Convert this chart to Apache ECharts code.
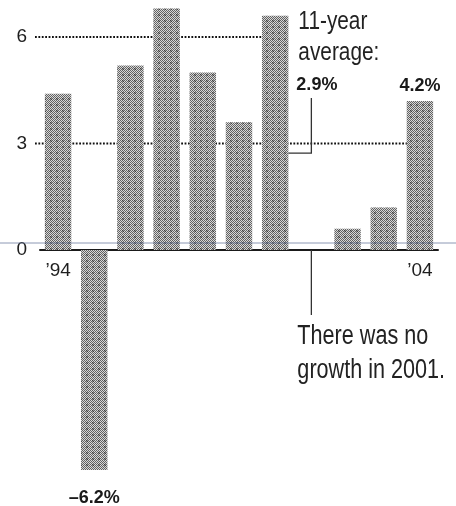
<!DOCTYPE html>
<html>
<head>
<meta charset="utf-8">
<script src="https://cdn.jsdelivr.net/npm/echarts@6/dist/echarts.min.js"></script>
<style>
  html, body { margin: 0; padding: 0; background: #fff; }
  #chart { width: 456px; height: 506px; }
</style>
</head>
<body>
<div id="chart"></div>
<script>
// Annual growth, 1994-2004 (percent)
const years = ['1994', '1995', '1996', '1997', '1998', '1999', '2000', '2001', '2002', '2003', '2004'];
const growth = [4.4, -6.2, 5.2, 6.8, 5.0, 3.6, 6.6, 0, 0.6, 1.2, 4.2];
const yTickLabels = [0, 3, 6];
const averageGrowth = 2.9;
const labelledYears = ['1995', '2004'];
const shownYearLabels = ['1994', '2004'];
const averageNote = ['11-year', 'average:'];
const zeroNote = ['There was no', 'growth in 2001.'];
const zeroYear = '2001';

const SANS = '"Liberation Sans", Arial, sans-serif';
const INK = '#1a1a1a';

// Halftone-like fill for the bars
function halftone() {
  const c = document.createElement('canvas');
  c.width = 6; c.height = 6;
  const g = c.getContext('2d');
  for (let y = 0; y < 6; y++) for (let x = 0; x < 6; x++) {
    const dark = (x + y) % 2 === 0;
    const blob = (x === 2 || x === 3) && (y === 2 || y === 3);
    g.fillStyle = dark ? (blob ? '#3e3e3e' : '#626262') : (blob ? '#9a9a9a' : '#d8d8d8');
    g.fillRect(x, y, 1, 1);
  }
  return c;
}
const barFill = { image: halftone(), repeat: 'repeat' };

const pct = v => (v < 0 ? '\u2013' : '') + Math.abs(v).toFixed(1) + '%';

const barData = growth.map((v, i) => {
  if (!labelledYears.includes(years[i])) return v;
  return {
    value: v,
    label: { show: true, position: v < 0 ? 'bottom' : 'top', distance: v < 0 ? 19 : 6 }
  };
});

const chart = echarts.init(document.getElementById('chart'), null, { renderer: 'canvas' });

chart.setOption({
  animation: false,
  backgroundColor: '#ffffff',
  grid: { left: 40, right: 18, top: 1.5, bottom: 7.5, containLabel: false, outerBoundsMode: 'none' },
  xAxis: {
    type: 'category',
    data: years,
    axisLine: { onZero: true, lineStyle: { color: INK, width: 2 } },
    axisTick: { show: false },
    axisLabel: { show: false }
  },
  yAxis: {
    type: 'value',
    min: -7,
    max: 7,
    interval: 1,
    splitLine: { show: false },
    axisLine: { show: false },
    axisTick: { show: false },
    axisLabel: {
      margin: 13,
      fontFamily: SANS,
      fontSize: 19,
      color: '#1e1e1e',
      formatter: v => yTickLabels.includes(v) ? String(v) : ''
    }
  },
  series: [{
    type: 'bar',
    data: barData,
    barCategoryGap: '27%',
    itemStyle: { color: barFill },
    label: {
      fontFamily: SANS,
      fontWeight: 'bold',
      fontSize: 18,
      color: INK,
      formatter: p => pct(p.value)
    },
    z: 2
  }]
});

// Reference lines, year labels and notes placed through the chart's own scales
const toPx = (cat, v) => chart.convertToPixel({ seriesIndex: 0 }, [cat, v]);
const band = toPx(1, 0)[0] - toPx(0, 0)[0];
const barHalf = band * 0.73 / 2;
const gridLeft = toPx(0, 0)[0] - band / 2;
const dotted = { stroke: '#111', lineWidth: 1.8, lineDash: [1.8, 1.6] };

const lastIdx = years.length - 1;
const zeroIdx = years.indexOf(zeroYear);
const peakIdx = zeroIdx - 1;

const y6 = toPx(0, 6)[1];
const y3 = toPx(0, 3)[1];
const y0 = toPx(0, 0)[1];
const yAvg = toPx(0, averageGrowth)[1];
const xZero = toPx(zeroIdx, 0)[0];

const yearLabels = shownYearLabels.map(yr => ({
  type: 'text', z: 10,
  x: toPx(years.indexOf(yr), 0)[0], y: y0 + 11,
  style: { text: '\u2019' + yr.slice(2), font: '19px ' + SANS, fill: '#1e1e1e', align: 'center', verticalAlign: 'top' }
}));

chart.setOption({
  graphic: [
    // dotted guides at 6 and 3
    { type: 'line', z: 0, shape: { x1: gridLeft - 5, y1: y6, x2: toPx(peakIdx, 6)[0], y2: y6 }, style: dotted },
    { type: 'line', z: 0, shape: { x1: gridLeft - 5, y1: y3, x2: toPx(lastIdx, 3)[0], y2: y3 }, style: dotted },
    // leader from the average note down to the average level
    {
      type: 'polyline', z: 10,
      shape: { points: [[xZero, 98], [xZero, yAvg + 6], [toPx(peakIdx, 0)[0] + barHalf, yAvg + 6]] },
      style: { stroke: '#333', lineWidth: 1.3, fill: null }
    },
    // leader from the axis to the 2001 note
    {
      type: 'line', z: 10,
      shape: { x1: xZero, y1: y0, x2: xZero, y2: y0 + 65 },
      style: { stroke: '#333', lineWidth: 1.3 }
    },
    ...yearLabels,
    // notes
    {
      type: 'text', z: 10, x: xZero - 13, y: 6, scaleX: 0.8,
      style: { text: averageNote.join('\n'), font: '26px ' + SANS, lineHeight: 31, fill: '#222' }
    },
    {
      type: 'text', z: 10, x: xZero - 15, y: 76,
      style: { text: pct(averageGrowth), font: 'bold 18px ' + SANS, fill: INK }
    },
    {
      type: 'text', z: 10, x: xZero - 14, y: 320, scaleX: 0.8,
      style: { text: zeroNote.join('\n'), font: '27px ' + SANS, lineHeight: 34, fill: '#222' }
    },
    // faint horizontal scan line just above the baseline
    { type: 'line', z: 20, shape: { x1: 0, y1: y0 - 7, x2: 456, y2: y0 - 7 }, style: { stroke: '#5b6d94', lineWidth: 1, opacity: 0.7 } }
  ]
});
</script>
</body>
</html>
